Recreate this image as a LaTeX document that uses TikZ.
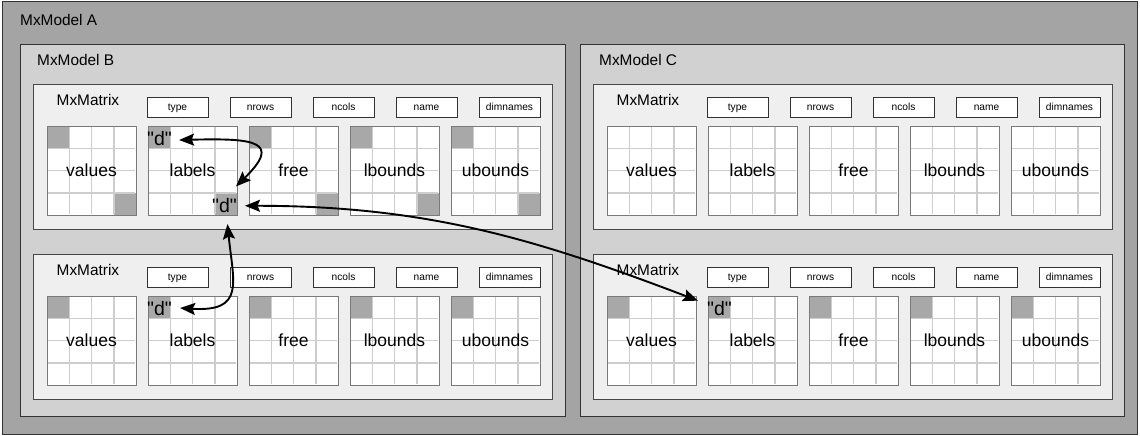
\documentclass[tikz,border=0pt]{standalone}
\usepackage{fontspec}
\setmainfont{Liberation Sans}
\newfontfamily\dqfont{Liberation Sans}[Ligatures=TeXOff]
\usetikzlibrary{arrows.meta}
\definecolor{cA}{HTML}{A4A4A4}
\definecolor{cB}{HTML}{D1D1D1}
\definecolor{cM}{HTML}{EFEFEF}
\definecolor{cGrey}{HTML}{A8A8A8}
\definecolor{cLine}{HTML}{CDCDCD}
\definecolor{cEdge}{HTML}{333333}
\definecolor{cGrid}{HTML}{7A7A7A}
\tikzset{
  boxA/.style={draw=cEdge, line width=1pt, fill=cA, inner sep=0pt, anchor=north west},
  boxB/.style={draw=cEdge, line width=1pt, fill=cB, inner sep=0pt, anchor=north west},
  mbox/.style={draw=cEdge!90, line width=1.1pt, fill=cM, inner sep=0pt, anchor=north west,
    minimum width=519pt, minimum height=145pt},
  ttl/.style={inner sep=0pt, anchor=base west, font=\fontsize{15.4}{18}\selectfont},
  smallbox/.style={draw=cEdge, line width=0.9pt, fill=white, inner sep=0pt,
    minimum width=61pt, minimum height=20pt, text height=7.4pt, text depth=0pt,
    font=\fontsize{10.2}{12}\selectfont},
  glabel/.style={inner sep=0pt, minimum size=89pt, font=\fontsize{17.5}{20}\selectfont},
  gridline/.style={draw=cLine, line width=1.5pt},
  gridedge/.style={draw=cGrid, line width=1pt},
  greycell/.style={fill=cGrey},
  dtext/.style={inner sep=0pt, font=\dqfont\fontsize{19.5}{22}\selectfont},
  conn/.style={line width=1.9pt, black,
    arrows={Stealth[length=15pt,width=12pt,inset=2.5pt]-Stealth[length=15pt,width=12pt,inset=2.5pt]}},
}
% #1 prefix, #2 box left, #3 box top, #4 mode (0 none, 1 corners, 2 top-left)
\newcommand\mxbox[4]{%
  \begin{scope}[shift={(#2,#3)}]
    \node[mbox] (#1) at (0,0) {};
    \node[ttl] (#1-t) at (23.5,21.5) {MxMatrix};
    \foreach \n [count=\i from 0] in {type,nrows,ncols,name,dimnames}{
      \node[smallbox] (#1-s\i) at (144.5+83*\i,23) {\n};
    }
    \foreach \lab [count=\i from 0] in {values,labels,free,lbounds,ubounds}{
      \pgfmathsetmacro\gx{14+101*\i}
      \fill[white] (\gx,42) rectangle ++(89,89);
      \ifnum#4>0 \fill[greycell] (\gx,42) rectangle ++(22.25,22.25);\fi
      \ifnum#4=1 \fill[greycell] (\gx+66.75,108.75) rectangle ++(22.25,22.25);\fi
      \foreach \k in {1,2,3}{
        \draw[gridline] (\gx+22.25*\k,42.6) -- ++(0,87.8);
        \draw[gridline] (\gx+0.6,42+22.25*\k) -- ++(87.8,0);
      }
      \draw[gridedge] (\gx,42) rectangle ++(89,89);
      \node[glabel] (#1-g\i) at (\gx+44.5,86.5) {\lab};
    }
    \ifnum#4>0 \node[dtext, anchor=base west] (#1-dTL) at (114,61) {"d"};\fi
    \ifnum#4=1 \node[dtext, anchor=base east] (#1-dBR) at (204,128.75) {"d"};\fi
  \end{scope}%
}
\begin{document}
\begin{tikzpicture}[x=1pt,y=-1pt]
  \useasboundingbox (0,0) rectangle (1140,436);
  \node[boxA, minimum width=1135pt, minimum height=433pt] (A) at (2,1) {};
  \node[ttl] (A-t) at (20,26) {MxModel A};
  \node[boxB, minimum width=545pt, minimum height=372pt] (B) at (20,44) {};
  \node[boxB, minimum width=544pt, minimum height=372pt] (C) at (580,44) {};
  \node[ttl] (B-t) at (37,65.5) {MxModel B};
  \node[ttl] (C-t) at (599,65.5) {MxModel C};
  \mxbox{B1}{33}{84}{1}
  \mxbox{B2}{33}{254}{2}
  \mxbox{C1}{593}{84}{0}
  \mxbox{C2}{593}{254}{2}
  % connectors
  \draw[conn] ([xshift=7pt,yshift=-2pt]B1-dTL.east) .. controls +(76,-2) and +(46,-45) ..
    ([xshift=-1pt,yshift=12pt]B1-dBR.north east);
  \draw[conn] ([xshift=8pt]B1-dBR.east) .. controls +(185,0) and +(-158,-60) ..
    ([xshift=-9pt]C2-dTL.north west);
  \draw[conn] ([xshift=3pt,yshift=-11pt]B1-dBR.south) .. controls +(6,59) and +(65,4) ..
    ([xshift=8pt]B2-dTL.east);
\end{tikzpicture}
\end{document}
